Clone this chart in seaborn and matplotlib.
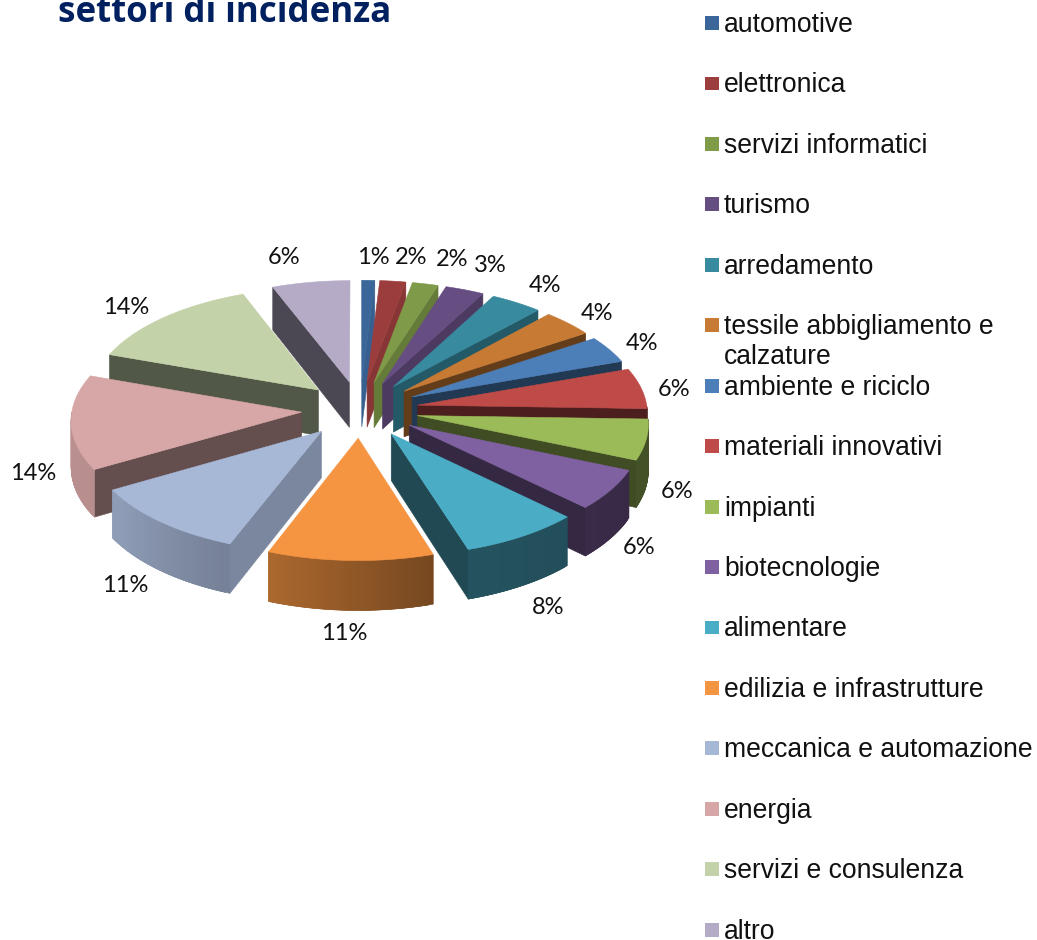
import numpy as np
import pandas as pd
import matplotlib
matplotlib.use('Agg')
import matplotlib.pyplot as plt
import seaborn as sns

# ---------- data ----------
settori = ['automotive', 'elettronica', 'servizi informatici', 'turismo', 'arredamento',
           'tessile abbigliamento e\ncalzature', 'ambiente e riciclo', 'materiali innovativi',
           'impianti', 'biotecnologie', 'alimentare', 'edilizia e infrastrutture',
           'meccanica e automazione', 'energia', 'servizi e consulenza', 'altro']
percentuali = [1, 2, 2, 3, 4, 4, 4, 6, 6, 6, 8, 11, 11, 14, 14, 6]
colori = ['#3a6699', '#9c3d3d', '#7f9a48', '#664d82', '#388a9f', '#c77a34', '#4c7eb8', '#be4b48',
          '#9bbb59', '#7f60a0', '#4bacc6', '#f59542', '#a7b7d6', '#d7a6a6', '#c3d2a8', '#b5abc6']

# where the percent labels sit (figure pixels)
label_x = [373, 411, 452, 490, 545, 597, 642, 674, 677, 639, 548, 344, 125, 33, 126, 284]
label_y = [257, 257, 260, 265, 286, 313, 344, 390, 491, 548, 608, 634, 586, 474, 307, 257]

# ---------- geometry of the fake 3d pie ----------
CX, CY = 360, 409.5
RX, RY = 229.5, 111
PERSP = 0.062
EXPLODE = 0.255
DEPTH = 46

# wall brightness depending on the angle of the edge
edge_a = [3, 17, 28, 42, 56, 70, 92, 162, 201, 240, 289, 339, 360]
edge_s = [0.95, 0.8, 0.75, 0.65, 0.5, 0.45, 0.4, 0.42, 0.74, 0.47, 0.42, 0.42, 0.42]
arc_a = [90, 162, 201, 235, 270]
arc_s = [0.42, 0.48, 0.7, 0.85, 0.87]


def project(t, e_mid, r=1.0, down=0.0):
    # t and e_mid in degrees, clockwise from north
    t = np.radians(t)
    m = np.radians(e_mid)
    x = EXPLODE * np.sin(m) + r * np.sin(t)
    y = -EXPLODE * np.cos(m) - r * np.cos(t)
    s = 1 / (1 - PERSP * y)
    return CX + RX * x * s, CY + RY * y * s + down * s


def shade(col, f):
    rgb = np.array(matplotlib.colors.to_rgb(col)) * f
    return tuple(np.clip(rgb, 0, 1))


def draw_wall(ax, xs, ys, col, f):
    ax.fill(xs, ys, color=shade(col, f), lw=0.4)


sns.set_theme(style='white')
fig = plt.figure(figsize=(10.37, 9.4), dpi=100)
ax = fig.add_axes([0, 0, 1, 1])
ax.set_xlim(0, 1037)
ax.set_ylim(940, 0)
ax.axis('off')

tot = sum(percentuali)
bordi = np.cumsum([0] + percentuali) / tot * 360
slices = pd.DataFrame({'a0': bordi[:-1], 'a1': bordi[1:], 'col': colori})
slices['mid'] = (slices.a0 + slices.a1) / 2

# back slices first, front ones on top
order = slices.assign(k=-np.cos(np.radians(slices.mid))).sort_values('k')
for _, sl in order.iterrows():
    a0, a1, mid, col = sl.a0, sl.a1, sl.mid, sl.col
    ax0, ay0 = project(0, mid, r=0)
    ad = project(0, mid, r=0, down=DEPTH)

    # radial walls that face the viewer
    for edge, vis in ((a0, np.sin(np.radians(a0)) < 0), (a1, np.sin(np.radians(a1)) > 0)):
        if vis:
            ex, ey = project(edge, mid)
            fx, fy = project(edge, mid, down=DEPTH)
            draw_wall(ax, [ax0, ex, fx, ad[0]], [ay0, ey, fy, ad[1]], col,
                      np.interp(edge, edge_a, edge_s))

    # curved outer wall, cut in small steps for the gradient
    # every step runs on under the next one so no seams show
    lo, hi = max(a0, 90), min(a1, 270)
    if hi > lo:
        steps = np.linspace(lo, hi, int(hi - lo) + 2)
        for t0, t1 in zip(steps[:-1], steps[1:]):
            t2 = min(t1 + 1, hi)
            arc = np.linspace(t0, t2, 5)
            x_up, y_up = project(arc, mid)
            x_do, y_do = project(arc[::-1], mid, down=DEPTH)
            draw_wall(ax, np.r_[x_up, x_do], np.r_[y_up, y_do], col,
                      np.interp((t0 + t1) / 2, arc_a, arc_s))

    # top face
    ts = np.linspace(a0, a1, 60)
    px, py = project(ts, mid)
    ax.fill(np.r_[ax0, px], np.r_[ay0, py], color=col, lw=0.4)

# percent labels
for x, y, p in zip(label_x, label_y, percentuali):
    ax.text(x, y, f'{p}%', ha='center', va='center', fontsize=17, family='Lato', color='#111111')

# legend
leg = pd.DataFrame({'x': 712, 'y': 23 + 60.45 * np.arange(len(settori)), 'nome': settori})
sns.scatterplot(data=leg, x='x', y='y', hue='nome', palette=colori, marker='s', s=100,
                linewidth=0, legend=False, ax=ax)
for y, nome in zip(leg.y, settori):
    ax.text(724, y - 11, nome, ha='left', va='top', fontsize=19.1, family='Liberation Sans',
            color='#111111', linespacing=1.2)
ax.axis('off')
ax.set_xlim(0, 1037)
ax.set_ylim(940, 0)

# title, cut by the top of the picture in the original
ax.text(58, 22.5, 'settori di incidenza', ha='left', va='baseline', fontsize=25.1, fontweight='bold',
        family='Open Sans', color='#002060')

fig.savefig('out.png', dpi=100)
